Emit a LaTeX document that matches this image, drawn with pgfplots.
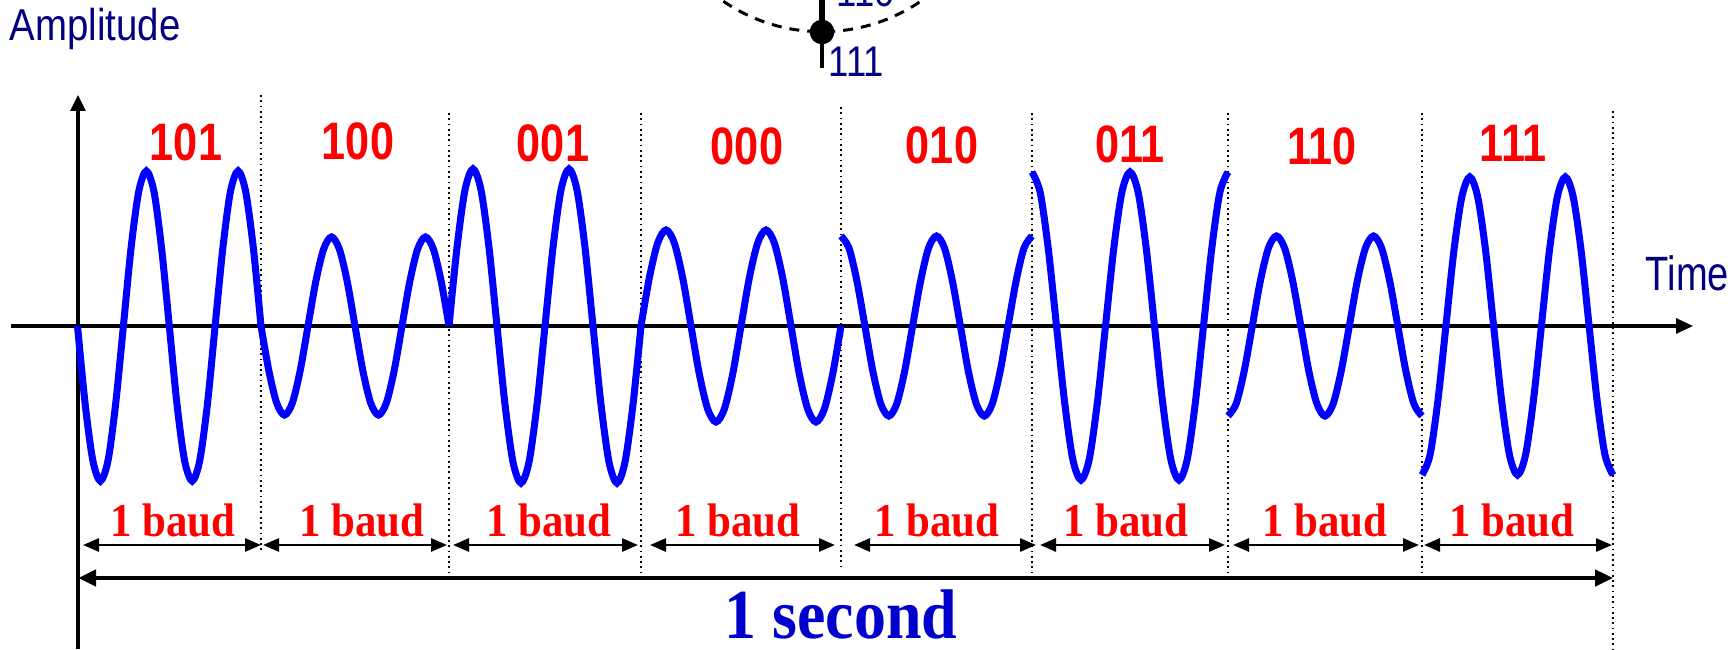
\documentclass[border=0pt]{standalone}
\usepackage{fontspec}
\usepackage{graphicx}
\usepackage{pgfplots}
\pgfplotsset{compat=1.18}
\usetikzlibrary{arrows.meta}
\setmainfont{Liberation Sans}
\newfontfamily\tnr{Liberation Serif}
\definecolor{wavec}{RGB}{0,0,255}
\definecolor{labc}{RGB}{255,0,0}
\definecolor{navyc}{RGB}{0,0,128}
\definecolor{secc}{RGB}{0,0,204}
\newcommand{\bits}[1]{\scalebox{0.82}[1]{\fontsize{15}{18}\selectfont\bfseries #1}}
\newcommand{\baud}{\scalebox{0.91}[1]{\tnr\fontsize{13.4}{16}\selectfont\bfseries 1 baud}}
\tikzset{ba/.style={line width=0.8pt, {Triangle[length=1.6mm,width=1.3mm]}-{Triangle[length=1.6mm,width=1.3mm]}},
  bl/.style={labc, anchor=base, inner sep=0pt}}
\pgfplotsset{dotline/.style={black, line width=0.5pt, dash pattern=on 0.5pt off 1pt, forget plot},
  wv/.style={wavec, line width=2pt, smooth, no marks}}
\begin{document}
\begin{tikzpicture}
\begin{axis}[scale only axis, width=17.35cm, height=6.49cm,
  xmin=0, xmax=1735, ymin=0, ymax=649, hide axis, clip=false]
% dotted baud boundaries
\addplot[dotline] coordinates {(261,554) (261,96)};
\addplot[dotline] coordinates {(449,536) (449,76)};
\addplot[dotline] coordinates {(641,536) (641,77)};
\addplot[dotline] coordinates {(841,542) (841,82)};
\addplot[dotline] coordinates {(1032,536) (1032,74)};
\addplot[dotline] coordinates {(1228,536) (1228,76)};
\addplot[dotline] coordinates {(1422,536) (1422,77)};
\addplot[dotline] coordinates {(1613,538) (1613,0)};
% axes
\draw[line width=0.9pt, -{Triangle[length=1.7mm,width=1.5mm]}] (axis cs:11,323) -- (axis cs:1693,323);
\draw[line width=0.9pt, -{Triangle[length=1.6mm,width=1.5mm]}] (axis cs:78,0) -- (axis cs:78,554);
% waveform
\addplot[wv] coordinates {(77.5,323) (85.1,245.5) (92.8,188.8) (100.4,168) (108.1,188.8) (115.7,245.5) (123.4,323) (131.0,400.5) (138.7,457.2) (146.3,478) (154.0,457.2) (161.6,400.5) (169.3,323) (176.9,245.5) (184.5,188.8) (192.2,168) (199.8,188.8) (207.5,245.5) (215.1,323) (222.8,400.5) (230.4,457.2) (238.1,478) (245.7,457.2) (253.4,400.5) (261.0,323)};
\addplot[wv] coordinates {(261,323) (268.8,278.5) (276.7,245.9) (284.5,234) (292.3,245.9) (300.2,278.5) (308,323) (315.8,367.5) (323.7,400.1) (331.5,412) (339.3,400.1) (347.2,367.5) (355,323) (362.8,278.5) (370.7,245.9) (378.5,234) (386.3,245.9) (394.2,278.5) (402,323) (409.8,367.5) (417.7,400.1) (425.5,412) (433.3,400.1) (441.2,367.5) (449,323)};
\addplot[wv] coordinates {(449,323) (457,401.5) (465,459) (473,480) (481,459) (489,401.5) (497,323) (505,244.5) (513,187) (521,166) (529,187) (537,244.5) (545,323) (553,401.5) (561,459) (569,480) (577,459) (585,401.5) (593,323) (601,244.5) (609,187) (617,166) (625,187) (633,244.5) (641,323)};
\addplot[wv] coordinates {(641,323) (649.3,371) (657.7,406.1) (666,419) (674.3,406.1) (682.7,371) (691,323) (699.3,275) (707.7,239.9) (716,227) (724.3,239.9) (732.7,275) (741,323) (749.3,371) (757.7,406.1) (766,419) (774.3,406.1) (782.7,371) (791,323) (799.3,275) (807.7,239.9) (816,227) (824.3,239.9) (832.7,275) (841,323)};
\addplot[wv] coordinates {(841,413) (849.0,400.9) (856.9,368) (864.9,323) (872.8,278) (880.8,245.1) (888.8,233) (896.7,245.1) (904.7,278) (912.6,323) (920.6,368) (928.5,400.9) (936.5,413) (944.5,400.9) (952.4,368) (960.4,323) (968.3,278) (976.3,245.1) (984.3,233) (992.2,245.1) (1000.2,278) (1008.1,323) (1016.1,368) (1024.0,400.9) (1032,413)};
\addplot[wv] coordinates {(1032,477) (1040.2,456.4) (1048.3,400) (1056.5,323) (1064.7,246) (1072.8,189.6) (1081,169) (1089.2,189.6) (1097.3,246) (1105.5,323) (1113.7,400) (1121.8,456.4) (1130,477) (1138.2,456.4) (1146.3,400) (1154.5,323) (1162.7,246) (1170.8,189.6) (1179,169) (1187.2,189.6) (1195.3,246) (1203.5,323) (1211.7,400) (1219.8,456.4) (1228,477)};
\addplot[wv] coordinates {(1228,233) (1236.1,245.1) (1244.2,278) (1252.3,323) (1260.3,368) (1268.4,400.9) (1276.5,413) (1284.6,400.9) (1292.7,368) (1300.8,323) (1308.8,278) (1316.9,245.1) (1325,233) (1333.1,245.1) (1341.2,278) (1349.3,323) (1357.3,368) (1365.4,400.9) (1373.5,413) (1381.6,400.9) (1389.7,368) (1397.8,323) (1405.8,278) (1413.9,245.1) (1422,233)};
\addplot[wv] coordinates {(1422,174) (1430.0,194) (1437.9,248.5) (1445.9,323) (1453.8,397.5) (1461.8,452) (1469.8,472) (1477.7,452) (1485.7,397.5) (1493.6,323) (1501.6,248.5) (1509.5,194) (1517.5,174) (1525.5,194) (1533.4,248.5) (1541.4,323) (1549.3,397.5) (1557.3,452) (1565.3,472) (1573.2,452) (1581.2,397.5) (1589.1,323) (1597.1,248.5) (1605.0,194) (1613,174)};
% bit labels
\node[bl] at (axis cs:186,488) {\bits{101}};
\node[bl] at (axis cs:358,489) {\bits{100}};
\node[bl] at (axis cs:553,487) {\bits{001}};
\node[bl] at (axis cs:747,484) {\bits{000}};
\node[bl] at (axis cs:942,485) {\bits{010}};
\node[bl] at (axis cs:1130,486) {\bits{011}};
\node[bl] at (axis cs:1322,484) {\bits{110}};
\node[bl] at (axis cs:1513,487) {\bits{111}};
% baud arrows
\draw[ba] (axis cs:83,104) -- (axis cs:261,104);
\draw[ba] (axis cs:263,104) -- (axis cs:447,104);
\draw[ba] (axis cs:453,104) -- (axis cs:638,104);
\draw[ba] (axis cs:650,104) -- (axis cs:835,104);
\draw[ba] (axis cs:854,104) -- (axis cs:1036,104);
\draw[ba] (axis cs:1040,104) -- (axis cs:1225,104);
\draw[ba] (axis cs:1233,104) -- (axis cs:1419,104);
\draw[ba] (axis cs:1424,104) -- (axis cs:1612,104);
\node[bl] at (axis cs:173,112) {\baud};
\node[bl] at (axis cs:362,112) {\baud};
\node[bl] at (axis cs:549,112) {\baud};
\node[bl] at (axis cs:738,112) {\baud};
\node[bl] at (axis cs:937,112) {\baud};
\node[bl] at (axis cs:1126,112) {\baud};
\node[bl] at (axis cs:1325,112) {\baud};
\node[bl] at (axis cs:1512,112) {\baud};
% one second arrow
\draw[line width=1.4pt, {Triangle[length=1.8mm,width=1.6mm]}-{Triangle[length=1.8mm,width=1.6mm]}] (axis cs:78,71) -- (axis cs:1613,71);
\node[secc, anchor=base, inner sep=0pt] at (axis cs:841,11) {\scalebox{0.91}[1]{\tnr\fontsize{20}{24}\selectfont\bfseries 1 second}};
% axis titles
\node[navyc, anchor=base west, inner sep=0pt] at (axis cs:9,608) {\scalebox{0.86}[1]{\fontsize{12.7}{15}\selectfont Amplitude}};
\node[navyc, anchor=base west, inner sep=0pt] at (axis cs:1645,358) {\scalebox{0.79}[1]{\fontsize{13.7}{16}\selectfont Time}};
% constellation fragment at top
\draw[black, line width=0.85pt, dash pattern=on 1mm off 0.8mm] (axis cs:822,792.3) circle[radius=17.5mm];
\addplot[black, line width=1.8pt, forget plot] coordinates {(822,617) (822,665)};
\addplot[black, line width=0.9pt, forget plot] coordinates {(822,617) (822,581)};
\addplot[black, only marks, mark=*, mark size=3.3pt, forget plot] coordinates {(822,617)};
\node[navyc, anchor=base west, inner sep=0pt] at (axis cs:828,572) {\scalebox{0.85}[1]{\fontsize{12.2}{14}\selectfont 111}};
\node[navyc, anchor=base west, inner sep=0pt] at (axis cs:836,642) {\scalebox{0.85}[1]{\fontsize{12.2}{14}\selectfont 110}};
\end{axis}
\pgfresetboundingbox
\useasboundingbox (current axis.south west) rectangle (current axis.north east);
\end{tikzpicture}
\end{document}
